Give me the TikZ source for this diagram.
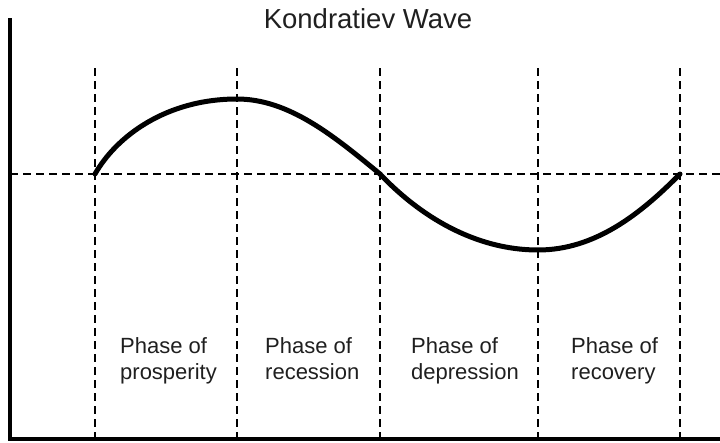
\documentclass[tikz,border=0pt]{standalone}
\usepackage{fontspec}
\setmainfont{Liberation Sans}
\begin{document}
\begin{tikzpicture}[x=1pt,y=-1pt,
  axisline/.style={line width=3.2pt},
  guide/.style={line width=2.2pt,dash pattern=on 8pt off 5pt},
  wave/.style={line width=5pt,line cap=round},
  phaselabel/.style={anchor=north west,inner sep=0pt,align=left,font=\fontsize{22}{26}\selectfont,text=black!88},
  titlelabel/.style={anchor=base,inner sep=0pt,font=\fontsize{27.5}{32}\selectfont,text=black!88}]
\useasboundingbox (0,0) rectangle (720,442);
% coordinates
\coordinate (axtop) at (10,18);
\coordinate (orig) at (10,439);
\coordinate (axend) at (720,439);
\coordinate (hl) at (10,174);
\coordinate (hr) at (720,174);
\foreach \n/\x in {a/95,b/237,c/380,d/538,e/680}{
  \coordinate (\n top) at (\x,68);
  \coordinate (\n bot) at (\x,439);
}
\coordinate (p0) at (95,174);
\coordinate (p1) at (237,99);
\coordinate (p2) at (380,174);
\coordinate (p3) at (538,250);
\coordinate (p4) at (680,174);
% guides
\draw[guide] (hl) -- (hr);
\foreach \n in {a,b,c,d,e}{\draw[guide] (\n top) -- (\n bot);}
% axes
\draw[axisline] (axtop) -- (orig) -- (axend);
% wave
\draw[wave] (p0) .. controls (116.3,136.5) and (166,99) .. (p1)
  .. controls (288.8,99) and (333.4,135.6) .. (p2)
  .. controls (419.5,215.8) and (474.8,250) .. (p3)
  .. controls (594.8,250) and (640.2,214.3) .. (p4);
% texts
\node[titlelabel] (title) at (368,28) {Kondratiev Wave};
\node[phaselabel] (l1) at (120,337) {Phase of\\prosperity};
\node[phaselabel] (l2) at (265,337) {Phase of\\recession};
\node[phaselabel] (l3) at (411,337) {Phase of\\depression};
\node[phaselabel] (l4) at (571,337) {Phase of\\recovery};
\end{tikzpicture}
\end{document}
